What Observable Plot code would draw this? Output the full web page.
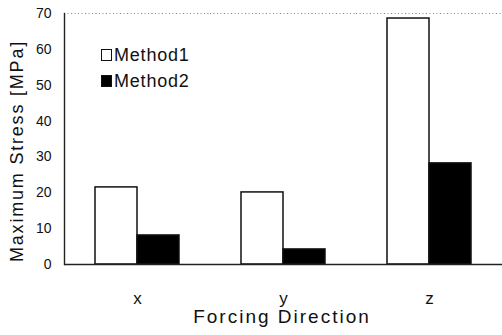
<!DOCTYPE html>
<html>
<head>
<meta charset="utf-8">
<script src="https://cdn.jsdelivr.net/npm/d3@7"></script>
<script src="https://cdn.jsdelivr.net/npm/@observablehq/plot@0.6"></script>
<style>
  html, body { margin: 0; padding: 0; background: white; }
  #wrap { position: relative; width: 502px; height: 335px; font-family: 'Liberation Sans', Arial, sans-serif; color: #111; }
  #wrap svg { position: absolute; left: 0; top: 0; }
  .ttl { position: absolute; white-space: nowrap; }
  #ytitle { left: 17px; top: 151px; font-size: 18px; letter-spacing: 1.8px; line-height: 18px; transform: translate(-50%, -50%) rotate(-90deg); }
  #xtitle { left: 282px; top: 307px; font-size: 19px; letter-spacing: 2px; line-height: 19px; transform: translateX(-50%); }
  .leg { position: absolute; left: 101px; display: flex; align-items: center; font-size: 18px; line-height: 18px; letter-spacing: 0.8px; }
  .sw { width: 9px; height: 10px; border: 1.2px solid #111; margin-right: 2px; box-sizing: content-box; }
</style>
</head>
<body>
<div id="wrap"></div>
<script>
const categories = ["x", "y", "z"];
const series = ["Method1", "Method2"];
const method1 = [21.5, 20.1, 68.6];
const method2 = [8.1, 4.2, 28.2];
const yTicks = [0, 10, 20, 30, 40, 50, 60, 70];
const seriesColors = ["white", "black"];
const yTitle = "Maximum Stress [MPa]";
const xTitle = "Forcing Direction";

const data = categories.flatMap((c, i) => [
  {dir: c, method: series[0], value: method1[i]},
  {dir: c, method: series[1], value: method2[i]}
]);

const chart = Plot.plot({
  width: 502,
  height: 335,
  marginTop: 13,
  marginBottom: 71,
  marginLeft: 64,
  marginRight: 0,
  style: {fontFamily: "'Liberation Sans', Arial, sans-serif", background: "white", color: "#111", overflow: "visible"},
  fx: {domain: categories, padding: 0},
  x: {domain: series, paddingInner: 0, paddingOuter: 0.7, axis: null},
  y: {domain: [0, 70]},
  color: {domain: series, range: seriesColors},
  marks: [
    Plot.ruleY([70], {stroke: "#888", strokeWidth: 1, strokeDasharray: "1,2.5"}),
    Plot.barY(data, {fx: "dir", x: "method", y: "value", fill: "method", stroke: "#111", strokeWidth: 1.5}),
    Plot.ruleY([0], {stroke: "#222", strokeWidth: 1.4}),
    Plot.frame({anchor: "left", facetAnchor: "left", stroke: "#222", strokeWidth: 1.4}),
    Plot.axisY({ticks: yTicks, tickSize: 0, tickPadding: 13, label: null, fontSize: 14, facetAnchor: "left"}),
    Plot.axisFx({anchor: "bottom", tickSize: 0, tickPadding: 27, label: null, fontSize: 17})
  ]
});

const wrap = document.getElementById("wrap");
wrap.appendChild(chart);

const yt = document.createElement("div");
yt.className = "ttl"; yt.id = "ytitle"; yt.textContent = yTitle;
wrap.appendChild(yt);
const xt = document.createElement("div");
xt.className = "ttl"; xt.id = "xtitle"; xt.textContent = xTitle;
wrap.appendChild(xt);

const legTops = [46, 72];
series.forEach((s, i) => {
  const row = document.createElement("div");
  row.className = "leg";
  row.style.top = legTops[i] + "px";
  const sw = document.createElement("span");
  sw.className = "sw";
  sw.style.background = seriesColors[i];
  const t = document.createElement("span");
  t.textContent = s;
  row.appendChild(sw);
  row.appendChild(t);
  wrap.appendChild(row);
});
</script>
</body>
</html>
